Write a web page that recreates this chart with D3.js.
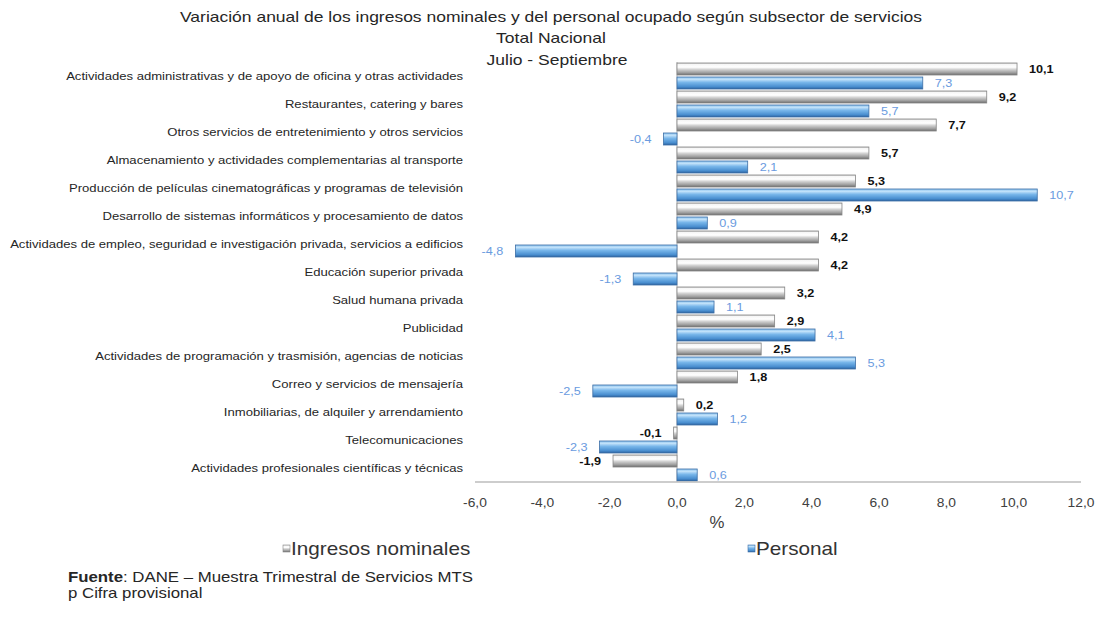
<!DOCTYPE html>
<html><head><meta charset="utf-8">
<script src="https://cdn.jsdelivr.net/npm/d3@7/dist/d3.min.js"></script>
<style>
body{margin:0;background:#fff;}
text{font-family:"Liberation Sans",Arial,sans-serif;}
</style></head>
<body>
<svg id="c" width="1101" height="619"></svg>
<script>
const categories = [
 "Actividades administrativas y de apoyo de oficina y otras actividades",
 "Restaurantes, catering y bares",
 "Otros servicios de entretenimiento y otros servicios",
 "Almacenamiento y actividades complementarias al transporte",
 "Producción de películas cinematográficas y programas de televisión",
 "Desarrollo de sistemas informáticos y procesamiento de datos",
 "Actividades de empleo, seguridad e investigación privada, servicios a edificios",
 "Educación superior privada",
 "Salud humana privada",
 "Publicidad",
 "Actividades de programación y trasmisión, agencias de noticias",
 "Correo y servicios de mensajería",
 "Inmobiliarias, de alquiler y arrendamiento",
 "Telecomunicaciones",
 "Actividades profesionales científicas y técnicas"
];
const ingresos = [10.1, 9.2, 7.7, 5.7, 5.3, 4.9, 4.2, 4.2, 3.2, 2.9, 2.5, 1.8, 0.2, -0.1, -1.9];
const personal = [7.3, 5.7, -0.4, 2.1, 10.7, 0.9, -4.8, -1.3, 1.1, 4.1, 5.3, -2.5, 1.2, -2.3, 0.6];
const seriesNames = ["Ingresos nominales", "Personal"];
const xTicks = [-6, -4, -2, 0, 2, 4, 6, 8, 10, 12];
const titleLines = ["Variación anual de los ingresos nominales y del personal ocupado según subsector de servicios", "Total Nacional", "Julio - Septiembre"];

const svg = d3.select("#c");
const SX = 1.15;
const fmt = v => d3.format(".1f")(v).replace(".", ",").replace("\u2212", "-");

function txt(g, x, y, s, opts) {
  return g.append("text")
    .attr("transform", `translate(${x},${y}) scale(${opts.sx || SX},1)`)
    .attr("text-anchor", opts.anchor || "start")
    .attr("font-size", opts.size)
    .attr("fill", opts.fill || "#262626")
    .attr("font-weight", opts.weight || "normal")
    .text(s);
}

const defs = svg.append("defs");
const gGray = defs.append("linearGradient").attr("id","gGray").attr("x1",0).attr("y1",0).attr("x2",0).attr("y2",1);
[[0,"#c8c8c8"],[0.12,"#f6f6f6"],[0.35,"#ffffff"],[0.55,"#cfcfcf"],[0.8,"#a0a0a0"],[1,"#6e6e6e"]].forEach(([o,c])=>gGray.append("stop").attr("offset",o).attr("stop-color",c));
const gBlue = defs.append("linearGradient").attr("id","gBlue").attr("x1",0).attr("y1",0).attr("x2",0).attr("y2",1);
[[0,"#8cc2ee"],[0.2,"#c2e2fa"],[0.45,"#78b6ea"],[0.8,"#4a8fd0"],[1,"#2d64a2"]].forEach(([o,c])=>gBlue.append("stop").attr("offset",o).attr("stop-color",c));

const x = d3.scaleLinear().domain([-6, 12]).range([475, 1081]);
const y = d3.scaleBand().domain(categories).range([62, 482]).padding(0);
const ys = d3.scaleBand().domain(seriesNames).range([0, y.bandwidth()]).paddingInner(1/7).paddingOuter(1/14);

// titles
txt(svg, 551, 22, titleLines[0], {anchor:"middle", size:14, sx:1.25});
txt(svg, 551, 43, titleLines[1], {anchor:"middle", size:14, sx:1.25});
txt(svg, 557, 65, titleLines[2], {anchor:"middle", size:14, sx:1.25});

// zero line
svg.append("line").attr("x1", x(0)).attr("x2", x(0)).attr("y1", 62).attr("y2", 482)
  .attr("stroke", "#bdbdbd").attr("stroke-width", 1);

const rows = categories.map((c, i) => ({c, vals: [ingresos[i], personal[i]]}));
const fills = ["url(#gGray)", "url(#gBlue)"];
const strokes = ["#858585", "#3c6ea6"];
const labelFill = ["#111111", "#6a9be0"];
const labelWeight = ["bold", "normal"];

rows.forEach(r => {
  r.vals.forEach((v, k) => {
    const y0 = y(r.c) + ys(seriesNames[k]);
    const x0 = Math.min(x(0), x(v)), w = Math.max(Math.abs(x(v) - x(0)), 1.5);
    svg.append("rect").attr("x", x0).attr("y", y0).attr("width", w).attr("height", ys.bandwidth())
      .attr("fill", fills[k]).attr("stroke", strokes[k]).attr("stroke-width", 0.8);
    const lx = v >= 0 ? x(v) + 12 : x(v) - 12;
    txt(svg, lx, y0 + ys.bandwidth()/2 + 4, fmt(v), {anchor: v >= 0 ? "start" : "end", size: 11, fill: labelFill[k], weight: labelWeight[k]});
  });
  txt(svg, 463, y(r.c) + y.bandwidth()/2 + 4, r.c, {anchor:"end", size:11, sx:1.19, fill:"#262626"});
});

// x axis
svg.append("line").attr("x1", x(-6)).attr("x2", x(12)).attr("y1", 482).attr("y2", 482)
  .attr("stroke", "#bdbdbd").attr("stroke-width", 1.5);
xTicks.forEach(t => txt(svg, x(t), 507, fmt(t), {anchor:"middle", size:12, fill:"#404040"}));
txt(svg, 717, 528, "%", {anchor:"middle", size:16, fill:"#404040", sx:1.05});

// legend
const legX = [283, 748];
seriesNames.forEach((s, k) => {
  svg.append("rect").attr("x", legX[k]).attr("y", 545).attr("width", 7).attr("height", 7)
    .attr("fill", fills[k]).attr("stroke", strokes[k]).attr("stroke-width", 0.6);
  txt(svg, legX[k] + 8, 555, s, {anchor:"start", size:18, fill:"#333333"});
});

// footer
const f = svg.append("text").attr("transform", `translate(68,582) scale(1.2,1)`).attr("font-size", 14).attr("fill", "#262626");
f.append("tspan").attr("font-weight", "bold").text("Fuente");
f.append("tspan").text(": DANE – Muestra Trimestral de Servicios MTS");
txt(svg, 68, 598, "p Cifra provisional", {anchor:"start", size:14, sx:1.2, fill:"#262626"});
</script>
</body></html>
